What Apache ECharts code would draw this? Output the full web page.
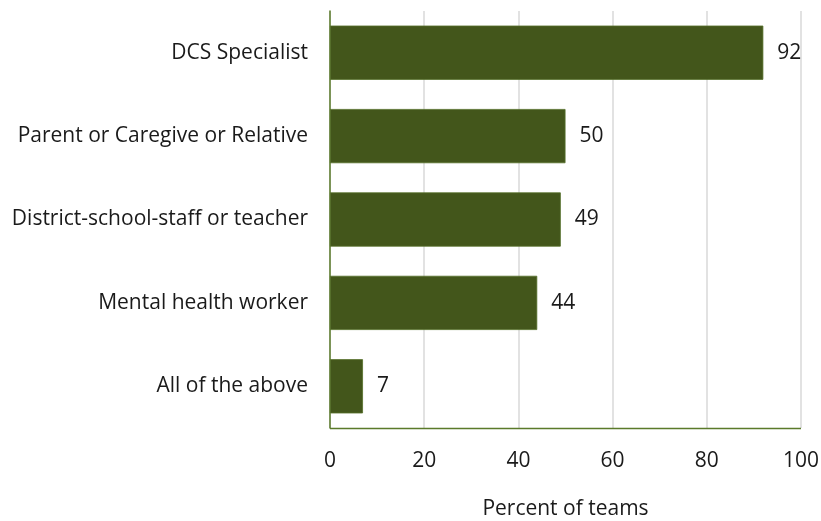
<!DOCTYPE html>
<html>
<head>
<meta charset="utf-8">
<script src="https://cdn.jsdelivr.net/npm/echarts@6/dist/echarts.min.js"></script>
<style>
  html, body { margin: 0; padding: 0; background: #fff; }
  #chart { width: 821px; height: 521px; }
</style>
</head>
<body>
<div id="chart"></div>
<script>
// Team members involved, share of teams (%)
const categories = [
  'All of the above',
  'Mental health worker',
  'District-school-staff or teacher',
  'Parent or Caregive or Relative',
  'DCS Specialist'
];
const percentOfTeams = [7, 44, 49, 50, 92];
const xTicks = [0, 20, 40, 60, 80, 100];

const FONT = '"Open Sans", "Noto Sans", sans-serif';
const FS = 21;

const chart = echarts.init(document.getElementById('chart'), null, { renderer: 'canvas' });
chart.setOption({
  animation: false,
  textStyle: { fontFamily: FONT },
  grid: {
    left: 330, right: 20, top: 11, bottom: 93,
    containLabel: false,
    outerBoundsMode: 'none'
  },
  xAxis: {
    type: 'value',
    min: xTicks[0],
    max: xTicks[xTicks.length - 1],
    interval: xTicks[1] - xTicks[0],
    name: 'Percent of teams',
    nameLocation: 'middle',
    nameGap: 71,
    nameTextStyle: { fontSize: FS, color: '#1a1a1a', fontFamily: FONT },
    axisLine: { show: false },
    axisTick: { show: false },
    axisLabel: { fontSize: FS, color: '#1a1a1a', margin: 23, fontFamily: FONT },
    splitLine: { show: true, lineStyle: { color: '#d9d9d9', width: 1.5 } }
  },
  yAxis: {
    type: 'category',
    data: categories,
    axisLine: { show: true, lineStyle: { color: '#5a7a2a', width: 1.5 } },
    axisTick: { show: false },
    axisLabel: { fontSize: FS, color: '#1a1a1a', margin: 22, fontFamily: FONT }
  },
  series: [{
    type: 'bar',
    data: percentOfTeams,
    barCategoryGap: '35%',
    itemStyle: { color: '#43561b', borderColor: '#55702a', borderWidth: 0.8 },
    label: {
      show: true,
      position: 'right',
      distance: 14,
      fontSize: FS,
      color: '#1a1a1a',
      fontFamily: FONT
    }
  }],
  graphic: [{
    type: 'line',
    shape: { x1: 330, y1: 428.5, x2: 801, y2: 428.5 },
    style: { stroke: '#5a7a2a', lineWidth: 1.5 },
    z: 10
  }]
});
</script>
</body>
</html>
